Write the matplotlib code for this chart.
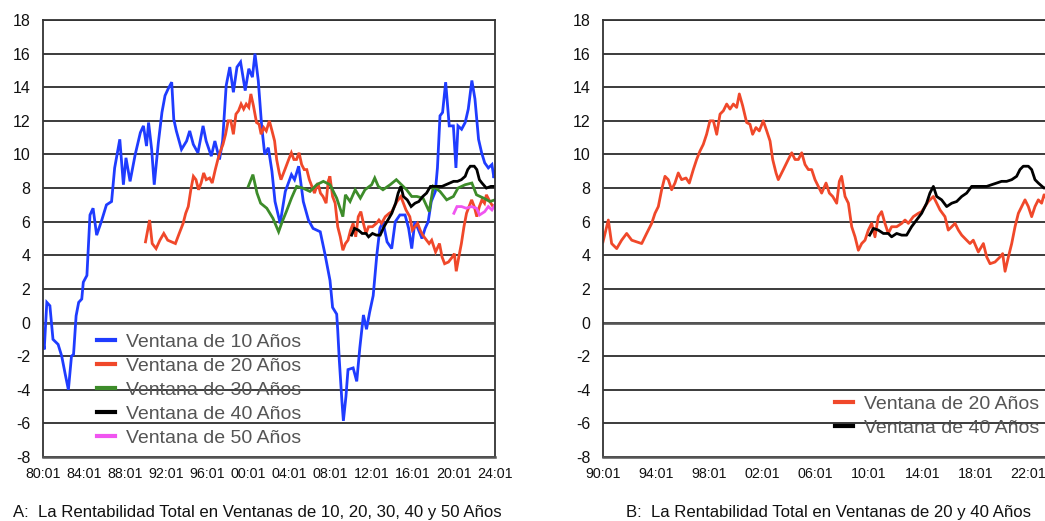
import matplotlib
matplotlib.use("Agg")
import matplotlib.pyplot as plt
from matplotlib.ticker import FuncFormatter

plt.rcParams['font.family'] = ['Liberation Sans', 'DejaVu Sans']

# ---------------- data ----------------
w10_years = [1980.0, 1980.15, 1980.4, 1980.7, 1981.0, 1981.5, 1981.85, 1982.2, 1982.5, 1982.8,
             1983.0, 1983.25, 1983.5, 1983.8, 1983.95, 1984.3, 1984.6, 1984.9, 1985.25, 1985.7,
             1986.2, 1986.7, 1987.0, 1987.5, 1987.85, 1988.1, 1988.5, 1989.0, 1989.5, 1989.8,
             1990.1, 1990.3, 1990.6, 1990.85, 1991.25, 1991.6, 1991.9, 1992.2, 1992.55, 1992.75,
             1993.0, 1993.5, 1994.0, 1994.3, 1994.65, 1995.1, 1995.6, 1995.9, 1996.4, 1996.75,
             1997.2, 1997.5, 1997.85, 1998.2, 1998.55, 1998.9, 1999.25, 1999.7, 2000.05, 2000.4,
             2000.65, 2000.97, 2001.3, 2001.6, 2001.95, 2002.3, 2002.6, 2003.1, 2003.6, 2004.2,
             2004.5, 2004.9, 2005.35, 2005.85, 2006.3, 2007.0, 2007.45, 2007.95, 2008.2, 2008.6,
             2008.7, 2008.85, 2009.1, 2009.25, 2009.5, 2009.7, 2010.2, 2010.55, 2010.85, 2011.2,
             2011.5, 2011.8, 2012.15, 2012.5, 2012.8, 2013.1, 2013.5, 2013.95, 2014.3, 2014.75,
             2015.25, 2015.6, 2015.9, 2016.2, 2016.5, 2016.9, 2017.2, 2017.5, 2017.8, 2018.2,
             2018.4, 2018.65, 2018.9, 2019.2, 2019.55, 2019.95, 2020.2, 2020.4, 2020.75, 2021.1,
             2021.4, 2021.75, 2022.05, 2022.4, 2022.7, 2023.0, 2023.35, 2023.7, 2023.9, 2024.0]
w10_vals = [-1.0, -1.6, 1.2, 1.0, -1.0, -1.3, -2.0, -3.1, -4.0, -2.0,
            -1.9, 0.4, 1.2, 1.4, 2.4, 2.8, 6.4, 6.8, 5.2, 6.0,
            7.0, 7.2, 9.2, 10.9, 8.2, 9.8, 8.4, 10.0, 11.3, 11.7,
            10.5, 11.9, 10.3, 8.2, 10.7, 12.5, 13.5, 13.9, 14.3, 12.1,
            11.4, 10.3, 10.8, 11.4, 10.6, 10.1, 11.7, 10.8, 9.9, 10.8,
            9.7, 10.8, 14.1, 15.2, 13.7, 15.2, 15.5, 13.8, 15.1, 14.6,
            16.0, 14.4, 11.7, 10.0, 10.4, 9.0, 7.2, 5.9, 7.8, 8.8,
            8.5, 9.3, 7.2, 6.1, 5.6, 5.4, 4.1, 2.5, 0.9, 0.5,
            -0.45, -2.2, -4.6, -5.85, -4.4, -2.8, -2.7, -3.5, -1.5, 0.45,
            -0.4, 0.6, 1.6, 4.0, 5.6, 6.0, 4.8, 4.4, 6.0, 6.4,
            6.4, 5.6, 4.4, 6.0, 5.6, 5.0, 5.6, 6.0, 7.2, 7.8,
            9.2, 12.3, 12.5, 14.3, 11.7, 11.7, 9.2, 11.7, 11.5, 11.9,
            12.7, 14.4, 13.3, 10.9, 10.1, 9.5, 9.2, 9.4, 8.6, 9.0]

w20_years = [1990.0, 1990.4, 1990.65, 1991.03, 1991.4, 1991.78, 1992.16, 1992.53, 1992.91, 1993.28,
             1993.66, 1993.91, 1994.16, 1994.41, 1994.66, 1994.91, 1995.16, 1995.41, 1995.66, 1995.91,
             1996.24, 1996.49, 1996.79, 1997.04, 1997.29, 1997.54, 1997.79, 1998.04, 1998.3, 1998.55,
             1998.8, 1999.05, 1999.3, 1999.55, 1999.8, 2000.05, 2000.25, 2000.5, 2000.8, 2001.05,
             2001.25, 2001.5, 2001.75, 2002.05, 2002.31, 2002.56, 2002.76, 2003.01, 2003.18, 2003.56,
             2003.93, 2004.19, 2004.44, 2004.69, 2004.94, 2005.19, 2005.44, 2005.69, 2005.94, 2006.19,
             2006.44, 2006.77, 2007.02, 2007.27, 2007.57, 2007.77, 2007.94, 2008.2, 2008.45, 2008.7,
             2008.95, 2009.2, 2009.45, 2009.7, 2009.95, 2010.2, 2010.45, 2010.7, 2010.95, 2011.2,
             2011.45, 2011.7, 2012.08, 2012.46, 2012.71, 2012.96, 2013.33, 2013.71, 2013.96, 2014.21,
             2014.46, 2014.84, 2015.09, 2015.34, 2015.71, 2015.96, 2016.22, 2016.47, 2016.72, 2016.97,
             2017.34, 2017.59, 2017.84, 2018.22, 2018.6, 2018.85, 2019.1, 2019.47, 2019.85, 2020.05,
             2020.23, 2020.48, 2020.73, 2020.98, 2021.23, 2021.48, 2021.73, 2021.98, 2022.23, 2022.48,
             2022.73, 2022.98, 2023.16, 2023.5, 2023.8, 2024.0]
w20_vals = [4.8, 6.1, 4.7, 4.4, 4.9, 5.3, 4.9, 4.8, 4.7, 5.3,
            5.9, 6.5, 6.9, 7.9, 8.7, 8.5, 7.9, 8.3, 8.9, 8.5,
            8.6, 8.3, 9.1, 9.7, 10.2, 10.6, 11.2, 12.0, 12.0, 11.2,
            12.4, 12.6, 13.0, 12.7, 13.0, 12.8, 13.6, 12.9, 11.9, 11.8,
            11.2, 11.6, 11.4, 12.0, 11.4, 10.8, 9.7, 8.9, 8.5, 9.1,
            9.7, 10.1, 9.7, 9.7, 10.1, 9.4, 9.1, 9.1, 8.5, 8.1,
            7.7, 8.3, 7.7, 7.5, 7.1, 8.4, 8.7, 7.5, 7.1, 5.7,
            5.1, 4.3, 4.7, 4.9, 5.5, 5.9, 5.1, 6.3, 6.6, 5.9,
            5.3, 5.7, 5.7, 5.9, 6.1, 5.9, 6.3, 6.5, 6.6, 6.9,
            7.2, 7.5, 7.1, 6.7, 6.3, 5.5, 5.7, 5.9, 5.5, 5.2,
            4.9, 4.7, 4.9, 4.2, 4.7, 3.9, 3.5, 3.6, 3.9, 4.1,
            3.05, 3.9, 4.7, 5.7, 6.5, 6.9, 7.3, 6.9, 6.3, 6.9,
            7.3, 7.1, 7.6, 7.2, 6.9, 7.0]

w30_years = [2000.0, 2000.45, 2000.85, 2001.2, 2001.8, 2002.4, 2002.95, 2003.3, 2003.7, 2004.2,
             2004.7, 2005.3, 2006.0, 2006.65, 2007.3, 2007.95, 2008.6, 2009.2, 2009.45, 2009.9,
             2010.4, 2010.9, 2011.35, 2012.0, 2012.3, 2012.65, 2013.1, 2013.8, 2014.4, 2014.9,
             2015.4, 2015.9, 2016.4, 2017.0, 2017.6, 2018.0, 2018.65, 2019.3, 2019.95, 2020.4,
             2021.1, 2021.75, 2022.2, 2022.9, 2023.5, 2024.0]
w30_vals = [8.1, 8.8, 7.7, 7.1, 6.8, 6.2, 5.4, 6.0, 6.6, 7.4,
            8.1, 8.0, 7.8, 8.2, 8.4, 8.2, 7.4, 6.3, 7.6, 7.2,
            7.9, 7.4, 7.9, 8.2, 8.6, 8.1, 7.9, 8.2, 8.5, 8.2,
            7.9, 7.5, 7.5, 7.4, 6.6, 8.1, 7.8, 7.3, 7.5, 8.0,
            8.2, 8.3, 7.6, 7.4, 7.2, 7.3]

w40_years = [2010.05, 2010.33, 2010.7, 2011.08, 2011.45, 2011.7, 2012.08, 2012.46, 2012.83, 2013.2,
             2013.58, 2013.96, 2014.33, 2014.58, 2014.84, 2015.09, 2015.46, 2015.84, 2016.22, 2016.59,
             2016.97, 2017.34, 2017.72, 2018.1, 2018.47, 2018.85, 2019.22, 2019.6, 2019.97, 2020.35,
             2020.73, 2021.1, 2021.35, 2021.6, 2021.98, 2022.23, 2022.48, 2022.73, 2023.16, 2023.6, 2024.0]
w40_vals = [5.2, 5.6, 5.5, 5.3, 5.3, 5.1, 5.3, 5.2, 5.2, 5.7,
            6.1, 6.5, 7.1, 7.7, 8.1, 7.5, 7.3, 6.9, 7.1, 7.2,
            7.5, 7.7, 8.1, 8.1, 8.1, 8.1, 8.2, 8.3, 8.4, 8.4,
            8.5, 8.7, 9.1, 9.3, 9.3, 9.1, 8.5, 8.3, 8.0, 8.1, 8.1]

w50_years = [2020.0, 2020.3, 2020.75, 2021.2, 2021.7, 2022.2, 2022.5, 2023.0, 2023.35, 2023.7, 2024.0]
w50_vals = [6.5, 6.9, 6.9, 6.8, 6.9, 6.8, 6.4, 6.6, 6.9, 6.7, 7.0]

labels = ["Ventana de 10 Años", "Ventana de 20 Años", "Ventana de 30 Años",
          "Ventana de 40 Años", "Ventana de 50 Años"]
colors = ["#1f3cff", "#f0482a", "#3d8c2a", "#000000", "#f055f0"]

left_xticks = list(range(1980, 2025, 4))
right_xticks = list(range(1990, 2025, 4))
yticks = list(range(-8, 19, 2))

caption_a = "A:  La Rentabilidad Total en Ventanas de 10, 20, 30, 40 y 50 Años"
caption_b = "B:  La Rentabilidad Total en Ventanas de 20 y 40 Años"

# ---------------- figure ----------------
W, H = 1045, 521
fig = plt.figure(figsize=(W / 100, H / 100), dpi=100)
fig.patch.set_facecolor("white")

ax1 = fig.add_axes([42.7 / W, 1 - 457 / H, 452.3 / W, 437 / H])
ax2 = fig.add_axes([603 / W, 1 - 457 / H, 452.2 / W, 437 / H])

def style(ax, xticks, xlim):
    ax.set_xlim(*xlim)
    ax.set_ylim(-8, 18)
    ax.set_yticks(yticks)
    ax.set_xticks(xticks)
    ax.yaxis.set_major_formatter(FuncFormatter(lambda v, p: "%d" % v))
    ax.xaxis.set_major_formatter(FuncFormatter(lambda v, p: "%02d:01" % (int(round(v)) % 100)))
    ax.set_axisbelow(True)
    ax.yaxis.grid(True, color="#1a1a1a", lw=1.2)
    ax.axhline(0, color="#555555", lw=1.9, zorder=1.5)
    for s in ax.spines.values():
        s.set_color("#333333")
        s.set_linewidth(1.3)
    ax.spines["bottom"].set_color("#555555")
    ax.spines["bottom"].set_linewidth(1.8)
    ax.tick_params(axis="y", length=0, pad=9, labelsize=11.5, colors="#111111")
    ax.tick_params(axis="x", length=0, pad=7, labelsize=10.3, colors="#111111")

style(ax1, left_xticks, (1980, 2024))
style(ax2, right_xticks, (1990, 2024))

series = [(w10_years, w10_vals), (w20_years, w20_vals), (w30_years, w30_vals),
          (w40_years, w40_vals), (w50_years, w50_vals)]
for (xs, ys), lab, col in zip(series, labels, colors):
    ax1.plot(xs, ys, color=col, lw=2.0, label=lab, solid_joinstyle="miter")

ax2.plot(w20_years, w20_vals, color=colors[1], lw=2.0, label=labels[1])
ax2.plot(w40_years, w40_vals, color=colors[3], lw=2.0, label=labels[3])

leg_kw = dict(frameon=False, fontsize=14, handlelength=0.9, handletextpad=0.6,
              labelspacing=0.33, borderpad=0, borderaxespad=0, labelcolor="#555555")
leg1 = ax1.legend(loc="upper left", bbox_to_anchor=((97 - 42.7) / 452.3, (457 - 333) / 437), **leg_kw)
leg2 = ax2.legend(loc="upper left", bbox_to_anchor=((835 - 603) / 452.2, (457 - 395) / 437), **leg_kw)
for leg in (leg1, leg2):
    for h in leg.get_lines():
        h.set_linewidth(3)

fig.text(13 / W, 1 - 513 / H, caption_a, fontsize=12.1, color="#111111", va="center", ha="left")
fig.text(626 / W, 1 - 513 / H, caption_b, fontsize=12.1, color="#111111", va="center", ha="left")

fig.savefig("out.png", dpi=100)
